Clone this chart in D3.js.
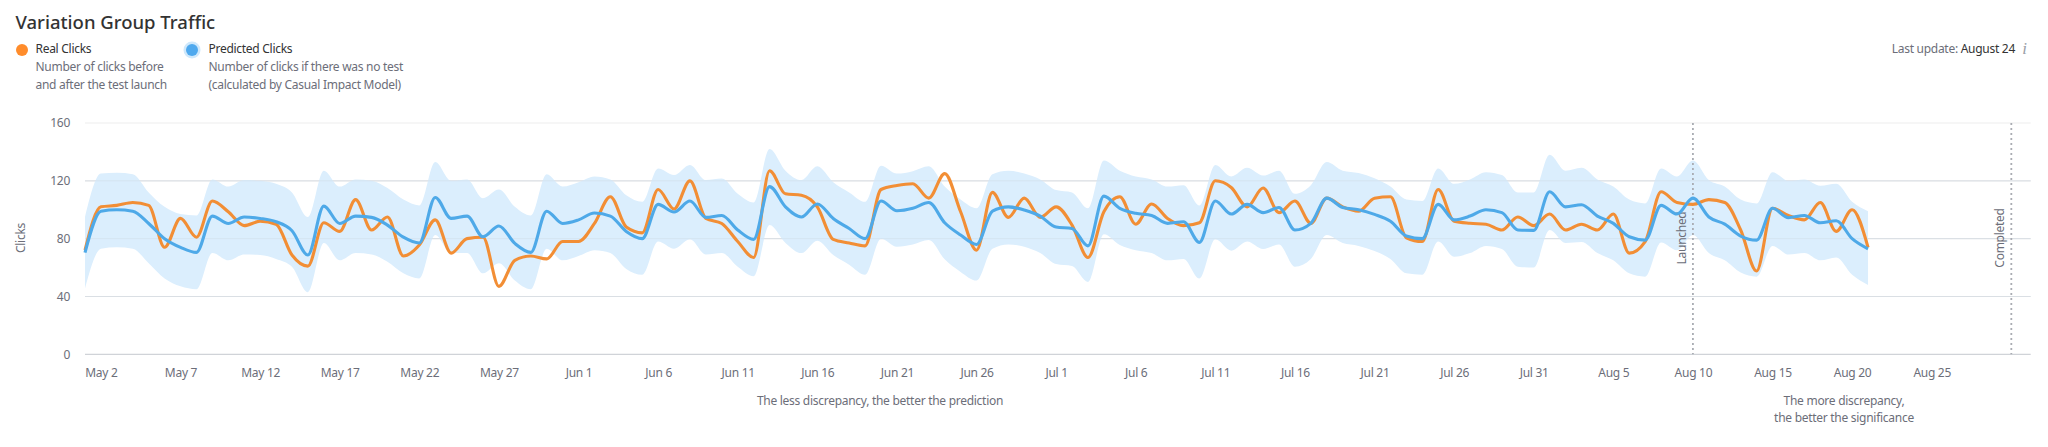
<!DOCTYPE html>
<html><head><meta charset="utf-8">
<script src="https://cdn.jsdelivr.net/npm/d3@7"></script>
<style>
html,body{margin:0;padding:0;background:#fff}
svg{display:block}
text{font-family:"Noto Sans","Open Sans",sans-serif;letter-spacing:-0.28px}
</style></head><body>
<svg id="c" width="2048" height="447"></svg>
<script>
const startDate = "2023-05-01";
const yTicks = [0,40,80,120,160];
const xTickLabels = ["May 2","May 7","May 12","May 17","May 22","May 27","Jun 1","Jun 6","Jun 11","Jun 16","Jun 21","Jun 26","Jul 1","Jul 6","Jul 11","Jul 16","Jul 21","Jul 26","Jul 31","Aug 5","Aug 10","Aug 15","Aug 20","Aug 25"];
const xTickDates = ["05-02","05-07","05-12","05-17","05-22","05-27","06-01","06-06","06-11","06-16","06-21","06-26","07-01","07-06","07-11","07-16","07-21","07-26","07-31","08-05","08-10","08-15","08-20","08-25"];
const realClicks = [72,102,103,105,103,74,94,81,106,98.6,89,92,90,68.7,61,91,85,107,86,95,68,75.6,93,70,80,81,47,65,68,66,78,78,90.5,109,88,84,114,100.5,120,94,90.5,78,67,127,111,110,102,79.5,77,75,114,116.8,118,108,125,98.6,72,112,94.7,108,94.7,102,89.4,67,98.6,109,90,104,94,89,91,120,115.4,102,115,98,106,90.6,108,102,99,108,109,80.6,78,114,92,90.6,90,86,95,89,97,86,90,86,97,70,78,112.4,105,103.7,107,105,86,57.6,101,96,93,105,85,100,74];
const predictedClicks = [70.3,99,100,99,90.5,80,74,70.5,95.6,90.5,95,94,91.7,85.5,68.7,102.5,90.5,95.6,94.7,89.4,81,77,108.5,94,95.6,81.3,88.7,76.7,70.5,99,90.5,93,97.7,95.6,85,80,103.7,98.4,106,94.7,96,86,79.5,116,102,95,104,94,87,80,106,99.3,101,105,91,82.5,76,99,102,99.8,95.6,88,87,75,109.4,101,97.5,96,90.6,91.7,77.4,106,97,103.7,98,101.6,86,90.6,108,101.6,100,96.8,92,81.8,80,103.7,93,95.6,100,98,86,85.7,112.4,102,103.5,95.6,90.6,81.3,79,103,97,108,95,90,81.8,79,101,94.5,96,91,92.4,80,73];
const upperBound = [95,125,125.5,124.6,112,102,97,96,121,116,120.5,120,118,112,95,127,116,121,120,115,107,103,133,120,121,108,114,102,96,124.5,116,119,123,121,110,105.5,128.6,124,131,120.5,121.6,111,105,142,127,120.5,130,119,112,105.5,130.5,125,126.7,130,116,107,101,124.6,127,125,121,113.6,112,101,134,127,123,121,116,117,103,131,123,129,123.6,127,111,117,133,127,125.4,121.7,116,107,106,128.6,118,121,126,124,112,112,138,127,129,121,116,107,104.4,128.6,123,134,120.5,116,107,104.4,126,120,121,116.6,118,105.5,99];
const lowerBound = [45.6,73,74,73,63,52.5,47,45,70,65,69,68.7,66,60.6,43,77,65,70,69,64,56,52.5,82.5,70,70,56,63,51,45,73,65,68,72,70,59,55,78,73,79.5,69,70,60.6,54,89.4,77,70,78.6,68.7,62,55,80,74.4,76,79,65.7,57,51,73,76,74.4,70,62.4,61,50,83,75.6,72,70,65,66,52.5,79.5,71.7,78,72.8,76,60.6,66,82.5,77,75,71.4,66,56,55,78,67.5,70,75,72.8,60.6,60,86,77,77.6,70,65,56,53.7,77.4,72,82.5,70,65,56.5,53.7,75,69,70,65,67,55,48];

const day = 24*3600*1000;
const t0 = Date.parse(startDate+"T00:00:00Z");
const dates = realClicks.map((_,i)=>new Date(t0+i*day));
const year = startDate.slice(0,4);
const tickD = xTickDates.map(s=>new Date(year+"-"+s+"T00:00:00Z"));
const launched = new Date(year+"-08-10T00:00:00Z");
const completed = new Date(year+"-08-30T00:00:00Z");

const svg = d3.select("#c");
const m = {l:85,r:2030.7,t:123,b:354.3};
const dayPx = 15.92;
const x = d3.scaleUtc().domain([new Date(t0), new Date(t0+(m.r-m.l)/dayPx*day)]).range([m.l,m.r]);
const y = d3.scaleLinear().domain([0,160]).range([m.b,m.t]);
const grey="#6c6e79";

// grid
svg.append("g").selectAll("line").data(yTicks).join("line")
  .attr("x1",m.l).attr("x2",m.r).attr("y1",d=>y(d)).attr("y2",d=>y(d))
  .attr("stroke",d=>d===0?"#d0d3d8":(d===160?"#eeeeee":"#e3e5e8")).attr("stroke-width",1.2);

// y axis
const ya = svg.append("g").attr("transform",`translate(${m.l},0)`).call(d3.axisLeft(y).tickValues(yTicks).tickSize(0).tickPadding(15));
ya.select(".domain").remove();
ya.selectAll("text").attr("font-size",12).attr("fill",grey).style("font-family",'"Noto Sans"');
// x axis
const xa = svg.append("g").attr("transform",`translate(0,${m.b})`).call(d3.axisBottom(x).tickValues(tickD).tickFormat((d,i)=>xTickLabels[i]).tickSize(0).tickPadding(14));
xa.select(".domain").remove();
xa.selectAll("text").attr("font-size",12).attr("fill",grey).style("font-family",'"Noto Sans"');

// band
const curve = d3.curveMonotoneX;
svg.append("path").datum(dates.map((d,i)=>i))
 .attr("d",d3.area().x(i=>x(dates[i])).y0(i=>y(lowerBound[i])).y1(i=>y(upperBound[i])).curve(curve))
 .attr("fill","#dbeefd");
// re-draw faint grid through band
svg.append("g").selectAll("line").data(yTicks.filter(d=>d>0&&d<160)).join("line")
  .attr("x1",m.l).attr("x2",m.r).attr("y1",d=>y(d)).attr("y2",d=>y(d))
  .attr("stroke","#c9d3dc").attr("stroke-opacity",.35).attr("stroke-width",1);

// annotation lines
[[launched,"Launched"],[completed,"Completed"]].forEach(([d,t])=>{
  svg.append("line").attr("x1",x(d)).attr("x2",x(d)).attr("y1",m.t).attr("y2",m.b)
    .attr("stroke","#a9acb3").attr("stroke-width",1.8).attr("stroke-dasharray","2 3");
  svg.append("text").attr("transform",`translate(${x(d)-7},238) rotate(-90)`).attr("text-anchor","middle")
    .attr("font-size",12).attr("fill",grey).text(t);
});

const line = vals => d3.line().x((_,i)=>x(dates[i])).y((_,i)=>y(vals[i])).curve(curve)(vals);
svg.append("path").attr("d",line(realClicks)).attr("fill","none").attr("stroke","#f28e35").attr("stroke-width",3.1);
svg.append("path").attr("d",line(predictedClicks)).attr("fill","none").attr("stroke","#4ea9e8").attr("stroke-width",3.1);

// title
svg.append("text").attr("x",15.5).attr("y",29).attr("font-size",18.5).attr("font-weight",500).attr("fill","#333").style("letter-spacing","0").text("Variation Group Traffic");
// legend
svg.append("circle").attr("cx",22).attr("cy",50).attr("r",6).attr("fill","#ff8c2b");
svg.append("circle").attr("cx",192).attr("cy",50).attr("r",8.5).attr("fill","#cfe8fb");
svg.append("circle").attr("cx",192).attr("cy",50).attr("r",6).attr("fill","#4fa9ee");
const t=(x0,yy,s,f,c,a)=>svg.append("text").attr("x",x0).attr("y",yy).attr("font-size",f).attr("fill",c).attr("text-anchor",a||"start").text(s);
t(35.5,53,"Real Clicks",12,"#333");
t(35.5,71,"Number of clicks before",12,grey);
t(35.5,89,"and after the test launch",12,grey);
t(208.5,53,"Predicted Clicks",12,"#333");
t(208.5,71,"Number of clicks if there was no test",12,grey);
t(208.5,89,"(calculated by Casual Impact Model)",12,grey);
// last update
const lu=svg.append("text").attr("x",2015).attr("y",53).attr("text-anchor","end").attr("font-size",12).attr("fill",grey);
lu.append("tspan").text("Last update: ");
lu.append("tspan").attr("fill","#333").text("August 24");
t(2024.5,54,"i",17,"#9aa0a8","middle").attr("font-style","italic").style("font-family",'"Liberation Serif"');
// notes
t(880,405,"The less discrepancy, the better the prediction",12,grey,"middle");
t(1844,405,"The more discrepancy,",12,grey,"middle");
t(1844,422,"the better the significance",12,grey,"middle");
// y title
svg.append("text").attr("transform","translate(25,238) rotate(-90)").attr("text-anchor","middle").attr("font-size",12).attr("fill",grey).text("Clicks");
</script></body></html>
